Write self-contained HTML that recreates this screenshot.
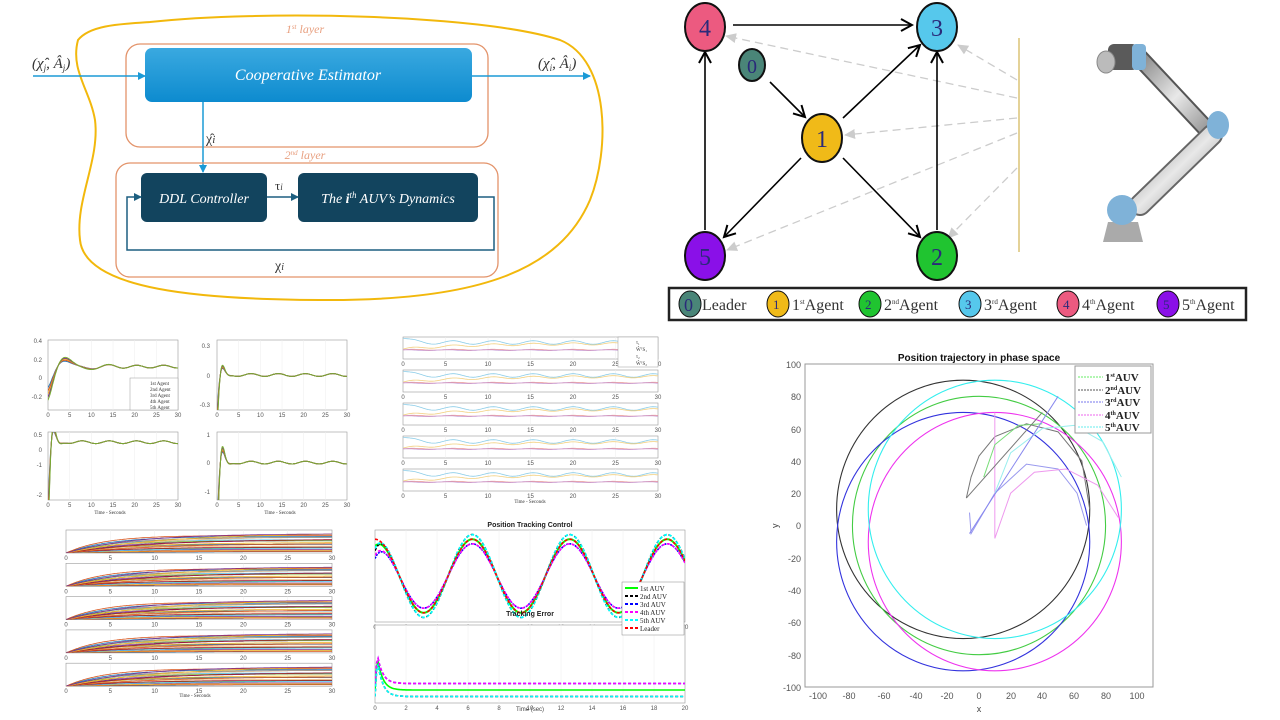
<!DOCTYPE html>
<html><head><meta charset="utf-8"><style>
body{margin:0;background:#fff}
svg{display:block}
text{font-family:"Liberation Sans",sans-serif}
text.s,.s text{font-family:"Liberation Serif",serif}
.t{font-size:6px;fill:#555}
</style></head><body>
<svg id="S" width="1280" height="720" viewBox="0 0 1280 720" xmlns="http://www.w3.org/2000/svg">
<defs id="D">
<marker id="ab" markerWidth="8" markerHeight="8" refX="7" refY="4" orient="auto" markerUnits="userSpaceOnUse"><path d="M0,0 L8,4 L0,8 z" fill="#1b9ad6"/></marker>
<marker id="ad" markerWidth="8" markerHeight="8" refX="7" refY="4" orient="auto" markerUnits="userSpaceOnUse"><path d="M0,0 L8,4 L0,8 z" fill="#1d5f80"/></marker>
<marker id="ak" markerWidth="14" markerHeight="14" refX="12" refY="7" orient="auto" markerUnits="userSpaceOnUse"><path d="M1,1 L12,7 L1,13" fill="none" stroke="#000" stroke-width="2"/></marker>
<marker id="ag" markerWidth="12" markerHeight="12" refX="10" refY="6" orient="auto" markerUnits="userSpaceOnUse"><path d="M0,1 L11,6 L0,11 z" fill="#ccc"/></marker>
<linearGradient id="bg" x1="0" y1="0" x2="0" y2="1"><stop offset="0" stop-color="#3aa9e0"/><stop offset="1" stop-color="#0d8bcf"/></linearGradient>
<linearGradient id="arm" x1="0" y1="0" x2="1" y2="1"><stop offset="0" stop-color="#8a8a8a"/><stop offset=".5" stop-color="#e8e8e8"/><stop offset="1" stop-color="#8a8a8a"/></linearGradient>
</defs>

<!-- Top-left block diagram -->
<path d="M150,22 C260,10 480,14 560,40 C610,60 610,150 590,200 C560,270 480,300 330,300 C200,300 85,290 80,240 C75,200 100,160 95,120 C90,90 70,70 78,40 C90,25 120,24 150,22 Z" fill="none" stroke="#f2b80c" stroke-width="2"/>
<rect x="126" y="44" width="362" height="103" rx="14" fill="none" stroke="#e3936a" stroke-width="1.3"/>
<text x="305" y="33" class="s" font-size="12" font-style="italic" fill="#e8a080" text-anchor="middle">1<tspan font-size="7" dy="-4">st</tspan><tspan dy="4"> layer</tspan></text>
<rect x="145" y="48" width="327" height="54" rx="7" fill="url(#bg)"/>
<text x="308" y="80" class="s" font-size="16" font-style="italic" fill="#fff" text-anchor="middle">Cooperative Estimator</text>
<line x1="33" y1="76" x2="145" y2="76" stroke="#1b9ad6" stroke-width="1.5" marker-end="url(#ab)"/>
<line x1="472" y1="76" x2="590" y2="76" stroke="#1b9ad6" stroke-width="1.5" marker-end="url(#ab)"/>
<text x="32" y="68" class="s" font-size="15" font-style="italic" fill="#333">(χ̂<tspan font-size="9" dy="3">j</tspan><tspan dy="-3">, Â</tspan><tspan font-size="9" dy="3">j</tspan><tspan dy="-3">)</tspan></text>
<text x="538" y="68" class="s" font-size="15" font-style="italic" fill="#333">(χ̂<tspan font-size="9" dy="3">i</tspan><tspan dy="-3">, Â</tspan><tspan font-size="9" dy="3">i</tspan><tspan dy="-3">)</tspan></text>
<line x1="203" y1="102" x2="203" y2="172" stroke="#1b9ad6" stroke-width="1.5" marker-end="url(#ab)"/>
<text x="206" y="143" class="s" font-size="14" fill="#333">χ̂<tspan font-style="italic" font-size="11">i</tspan></text>
<text x="305" y="159" class="s" font-size="12" font-style="italic" fill="#e8a080" text-anchor="middle">2<tspan font-size="7" dy="-4">nd</tspan><tspan dy="4"> layer</tspan></text>
<rect x="116" y="163" width="382" height="114" rx="14" fill="none" stroke="#e3936a" stroke-width="1.3"/>
<rect x="141" y="173" width="126" height="49" rx="6" fill="#12445e"/>
<rect x="298" y="173" width="180" height="49" rx="6" fill="#12445e"/>
<text x="204" y="203" class="s" font-size="14" font-style="italic" fill="#fff" text-anchor="middle">DDL Controller</text>
<text x="388" y="203" class="s" font-size="14" font-style="italic" fill="#fff" text-anchor="middle">The <tspan font-weight="bold">i</tspan><tspan font-size="9" dy="-5">th</tspan><tspan dy="5"> AUV’s Dynamics</tspan></text>
<line x1="267" y1="197" x2="298" y2="197" stroke="#1d5f80" stroke-width="1.5" marker-end="url(#ad)"/>
<text x="275" y="190" class="s" font-size="13" fill="#333">τ<tspan font-size="9" font-style="italic">i</tspan></text>
<path d="M478,197 H494 V250 H127 V197 H141" fill="none" stroke="#1d5f80" stroke-width="1.5" marker-end="url(#ad)"/>
<text x="275" y="270" class="s" font-size="14" fill="#333">χ<tspan font-size="10" font-style="italic">i</tspan></text>

<!-- Graph -->
<line x1="1019" y1="38" x2="1019" y2="252" stroke="#c9a530" stroke-width="1"/>
<g stroke="#ccc" stroke-width="1.3" stroke-dasharray="8,5" fill="none">
<line x1="1017" y1="98" x2="726" y2="36" marker-end="url(#ag)"/>
<line x1="1017" y1="80" x2="958" y2="45" marker-end="url(#ag)"/>
<line x1="1017" y1="118" x2="845" y2="135" marker-end="url(#ag)"/>
<line x1="1017" y1="133" x2="727" y2="250" marker-end="url(#ag)"/>
<line x1="1017" y1="168" x2="948" y2="238" marker-end="url(#ag)"/>
</g>
<g stroke="#000" stroke-width="1.6" fill="none">
<line x1="733" y1="25" x2="912" y2="25" marker-end="url(#ak)"/>
<line x1="770" y1="82" x2="805" y2="117" marker-end="url(#ak)"/>
<line x1="843" y1="118" x2="920" y2="45" marker-end="url(#ak)"/>
<line x1="801" y1="158" x2="724" y2="237" marker-end="url(#ak)"/>
<line x1="843" y1="158" x2="920" y2="237" marker-end="url(#ak)"/>
<line x1="937" y1="230" x2="937" y2="52" marker-end="url(#ak)"/>
<line x1="705" y1="230" x2="705" y2="52" marker-end="url(#ak)"/>
</g>
<g stroke="#111" stroke-width="2">
<ellipse cx="705" cy="27" rx="20" ry="24" fill="#ec5a80"/>
<ellipse cx="937" cy="27" rx="20" ry="24" fill="#56c8ec"/>
<ellipse cx="752" cy="65" rx="13" ry="16" fill="#4a8578"/>
<ellipse cx="822" cy="138" rx="20" ry="24" fill="#f0ba18"/>
<ellipse cx="705" cy="256" rx="20" ry="24" fill="#8a10e8"/>
<ellipse cx="937" cy="256" rx="20" ry="24" fill="#20c430"/>
</g>
<g class="s" font-size="24" text-anchor="middle" fill="#2a2a7a">
<text x="705" y="36">4</text><text x="937" y="36">3</text><text x="752" y="73" font-size="20">0</text>
<text x="822" y="147">1</text><text x="705" y="265">5</text><text x="937" y="265">2</text>
</g>
<!-- legend -->
<rect x="669" y="288" width="577" height="32" fill="#fff" stroke="#222" stroke-width="2.5"/>
<g class="s" font-size="16" fill="#333">
<ellipse cx="690" cy="304" rx="11" ry="13" fill="#4a8578" stroke="#111"/><text x="684" y="311" fill="#2a2a7a" font-size="18">0</text><text x="702" y="310">Leader</text>
<ellipse cx="778" cy="304" rx="11" ry="13" fill="#f0ba18" stroke="#111"/><text x="773" y="309" font-size="13" fill="#2a2a7a">1</text><text x="792" y="310">1<tspan font-size="7" dy="-6">st</tspan><tspan dy="6">Agent</tspan></text>
<ellipse cx="870" cy="304" rx="11" ry="13" fill="#20c430" stroke="#111"/><text x="865" y="309" font-size="13" fill="#2a2a7a">2</text><text x="884" y="310">2<tspan font-size="7" dy="-6">nd</tspan><tspan dy="6">Agent</tspan></text>
<ellipse cx="970" cy="304" rx="11" ry="13" fill="#56c8ec" stroke="#111"/><text x="965" y="309" font-size="13" fill="#2a2a7a">3</text><text x="984" y="310">3<tspan font-size="7" dy="-6">rd</tspan><tspan dy="6">Agent</tspan></text>
<ellipse cx="1068" cy="304" rx="11" ry="13" fill="#ec5a80" stroke="#111"/><text x="1063" y="309" font-size="13" fill="#2a2a7a">4</text><text x="1082" y="310">4<tspan font-size="7" dy="-6">th</tspan><tspan dy="6">Agent</tspan></text>
<ellipse cx="1168" cy="304" rx="11" ry="13" fill="#8a10e8" stroke="#111"/><text x="1163" y="309" font-size="13" fill="#2a2a7a">5</text><text x="1182" y="310">5<tspan font-size="7" dy="-6">th</tspan><tspan dy="6">Agent</tspan></text>
</g>
<!-- robot -->
<g>
<line x1="1140" y1="58" x2="1212" y2="135" stroke="#555" stroke-width="18" stroke-linecap="round"/>
<line x1="1140" y1="58" x2="1212" y2="135" stroke="url(#arm)" stroke-width="14" stroke-linecap="round"/>
<line x1="1212" y1="135" x2="1140" y2="205" stroke="#666" stroke-width="22" stroke-linecap="round"/>
<line x1="1212" y1="135" x2="1140" y2="205" stroke="url(#arm)" stroke-width="18" stroke-linecap="round"/>
<rect x="1108" y="44" width="30" height="26" rx="6" fill="#5a5a5a"/>
<ellipse cx="1106" cy="62" rx="9" ry="11" fill="#bbb" stroke="#888"/>
<rect x="1132" y="44" width="14" height="26" rx="4" fill="#7fb2d8"/>
<ellipse cx="1218" cy="125" rx="11" ry="14" fill="#7fb2d8"/>
<path d="M1108,222 L1138,222 L1143,242 L1103,242 Z" fill="#aaa"/>
<circle cx="1122" cy="210" r="15" fill="#7fb2d8"/>
</g>

<g id="tl"></g>
<g id="mid"></g>
<g id="bl"></g>
<g id="pt"></g>
<g id="ph"></g>

<g class="t">
<text x="42" y="343" text-anchor="end">0.4</text><text x="42" y="362" text-anchor="end">0.2</text><text x="42" y="380" text-anchor="end">0</text><text x="42" y="399" text-anchor="end">-0.2</text>
<text x="42" y="437" text-anchor="end">0.5</text><text x="42" y="452" text-anchor="end">0</text><text x="42" y="467" text-anchor="end">-1</text><text x="42" y="497" text-anchor="end">-2</text>
<text x="210" y="348" text-anchor="end">0.3</text><text x="210" y="378" text-anchor="end">0</text><text x="210" y="407" text-anchor="end">-0.3</text>
<text x="210" y="437" text-anchor="end">1</text><text x="210" y="465" text-anchor="end">0</text><text x="210" y="494" text-anchor="end">-1</text>
</g>
<g class="s" font-size="5" fill="#333">
<rect x="130" y="378" width="48" height="32" fill="#fff" stroke="#999" stroke-width=".5"/>
<text x="150" y="385">1st Agent</text><text x="150" y="391">2nd Agent</text><text x="150" y="397">3rd Agent</text><text x="150" y="403">4th Agent</text><text x="150" y="409">5th Agent</text>
<rect x="618" y="337" width="40" height="30" fill="#fff" stroke="#999" stroke-width=".5"/>
<text x="636" y="344">τ₁</text><text x="636" y="351">ŴᵀS₁</text><text x="636" y="358">τ₂</text><text x="636" y="365">ŴᵀS₂</text>
<text x="110" y="514" text-anchor="middle">Time - Seconds</text><text x="280" y="514" text-anchor="middle">Time - Seconds</text>
<text x="530" y="503" text-anchor="middle">Time - Seconds</text><text x="195" y="697" text-anchor="middle">Time - Seconds</text>
</g>
<text x="530" y="527" font-size="7" font-weight="bold" text-anchor="middle" fill="#222">Position Tracking Control</text>
<text x="530" y="616" font-size="7" font-weight="bold" text-anchor="middle" fill="#222">Tracking Error</text>
<text x="530" y="711" font-size="6" text-anchor="middle" fill="#444">Time (sec)</text>
<g class="s" font-size="7" fill="#222">
<rect x="622" y="582" width="62" height="53" fill="#fff" stroke="#888" stroke-width=".5"/>
<line x1="625" y1="588" x2="638" y2="588" stroke="#0f0" stroke-width="2"/><text x="640" y="591">1st AUV</text>
<line x1="625" y1="596" x2="638" y2="596" stroke="#000" stroke-width="2" stroke-dasharray="3,2"/><text x="640" y="599">2nd AUV</text>
<line x1="625" y1="604" x2="638" y2="604" stroke="#00f" stroke-width="2" stroke-dasharray="3,2"/><text x="640" y="607">3rd AUV</text>
<line x1="625" y1="612" x2="638" y2="612" stroke="#f0f" stroke-width="2" stroke-dasharray="3,2"/><text x="640" y="615">4th AUV</text>
<line x1="625" y1="620" x2="638" y2="620" stroke="#0ff" stroke-width="2" stroke-dasharray="3,2"/><text x="640" y="623">5th AUV</text>
<line x1="625" y1="628" x2="638" y2="628" stroke="#f00" stroke-width="2" stroke-dasharray="3,2"/><text x="640" y="631">Leader</text>
</g>
<text x="979" y="361" font-size="10" font-weight="bold" text-anchor="middle" fill="#111">Position trajectory in phase space</text>
<text x="979" y="712" font-size="9" text-anchor="middle" fill="#444">x</text>
<text x="778" y="528" font-size="9" fill="#444" transform="rotate(-90 778 528)">y</text>
<g class="s" font-size="11" font-weight="bold" fill="#222">
<rect x="1075" y="366" width="76" height="67" fill="#fff" stroke="#999"/>
<line x1="1078" y1="377" x2="1103" y2="377" stroke="#6e6" stroke-dasharray="2,1"/><text x="1105" y="381">1<tspan font-size="6" dy="-4">st</tspan><tspan dy="4">AUV</tspan></text>
<line x1="1078" y1="390" x2="1103" y2="390" stroke="#555" stroke-dasharray="2,1"/><text x="1105" y="394">2<tspan font-size="6" dy="-4">nd</tspan><tspan dy="4">AUV</tspan></text>
<line x1="1078" y1="402" x2="1103" y2="402" stroke="#77e" stroke-dasharray="2,1"/><text x="1105" y="406">3<tspan font-size="6" dy="-4">rd</tspan><tspan dy="4">AUV</tspan></text>
<line x1="1078" y1="415" x2="1103" y2="415" stroke="#e6e" stroke-dasharray="2,1"/><text x="1105" y="419">4<tspan font-size="6" dy="-4">th</tspan><tspan dy="4">AUV</tspan></text>
<line x1="1078" y1="427" x2="1103" y2="427" stroke="#6ee" stroke-dasharray="2,1"/><text x="1105" y="431">5<tspan font-size="6" dy="-4">th</tspan><tspan dy="4">AUV</tspan></text>
</g>
<g font-size="9" fill="#555" text-anchor="end">
<text x="801" y="368">100</text><text x="801" y="400">80</text><text x="801" y="433">60</text><text x="801" y="465">40</text><text x="801" y="497">20</text><text x="801" y="529">0</text><text x="801" y="562">-20</text><text x="801" y="594">-40</text><text x="801" y="626">-60</text><text x="801" y="659">-80</text><text x="801" y="691">-100</text>
</g>
<g font-size="9" fill="#555" text-anchor="middle">
<text x="818" y="699">-100</text><text x="849" y="699">-80</text><text x="884" y="699">-60</text><text x="916" y="699">-40</text><text x="947" y="699">-20</text><text x="979" y="699">0</text><text x="1011" y="699">20</text><text x="1042" y="699">40</text><text x="1074" y="699">60</text><text x="1106" y="699">80</text><text x="1137" y="699">100</text>
</g>
</svg>
<script>
var NS="http://www.w3.org/2000/svg",cid=0;
function mk(p,t,a){var e=document.createElementNS(NS,t);for(var k in a)e.setAttribute(k,a[k]);p.appendChild(e);return e;}
function el(g,t,a){return mk(document.getElementById(g),t,a);}
function box(g,x,y,w,h,nx,lab){el(g,"rect",{x:x,y:y,width:w,height:h,fill:"#fff",stroke:"#999","stroke-width":.6});
 for(var i=1;i<nx;i++)el(g,"line",{x1:x+w*i/nx,y1:y,x2:x+w*i/nx,y2:y+h,stroke:"#eee","stroke-width":.5});
 if(lab){for(var i=0;i<=nx;i++){var t=el(g,"text",{x:x+w*i/nx,y:y+h+7,"font-size":6,fill:"#555","text-anchor":"middle"});t.textContent=lab[i];}}
 var id="c"+(cid++);var cp=mk(document.getElementById("D"),"clipPath",{id:id});mk(cp,"rect",{x:x,y:y,width:w,height:h});
 return el(g,"g",{"clip-path":"url(#"+id+")"});}
function curve(G,x,y,w,h,f,c,sw,da){var d="";for(var i=0;i<=200;i++){var u=i/200;var v=f(u);d+=(i?"L":"M")+(x+u*w).toFixed(1)+","+(y+h*(1-v)).toFixed(1);}
 var a={d:d,fill:"none",stroke:c,"stroke-width":sw||1};if(da)a["stroke-dasharray"]=da;mk(G,"path",a);}
var L30=["0","5","10","15","20","25","30"];
var cols=["#2a7ab8","#d9541a","#edb120","#7e2f8e","#77ac30"];
[[48,340,130,70,.62,-0.3],[217,340,130,70,.5,-0.5],[48,432,130,68,.85,-0.9],[217,432,130,68,.55,-0.9]].forEach(function(p,j){
 var G=box("tl",p[0],p[1],p[2],p[3],6,L30);
 cols.forEach(function(c,k){curve(G,p[0],p[1],p[2],p[3],function(u){var tr=Math.exp(-u*(j==0?8:40));return p[4]+(p[5]*(1+k*.15))*tr*Math.cos(u*(j==0?20:60))+0.02*Math.sin(u*30);},c,1);});
});
for(var r=0;r<5;r++){var y=337+r*33;var G=box("mid",403,y,255,22,6,L30);
 curve(G,403,y,255,22,function(u){return .75+.08*Math.sin(u*40)+.2*Math.exp(-u*30);},"#8ccde8",.8);
 curve(G,403,y,255,22,function(u){return .45+.25*(1-Math.exp(-u*4))+.05*Math.sin(u*40);},"#f2d080",.8);
 curve(G,403,y,255,22,function(u){return .42+.02*Math.sin(u*40);},"#e89090",.8);
 curve(G,403,y,255,22,function(u){return .4+.02*Math.sin(u*40+1);},"#c9a0d8",.8);}
var pal=["#1f77b4","#d95319","#edb120","#7e2f8e","#77ac30","#4dbeee","#a2142f","#f0c080","#888"];
for(var r=0;r<5;r++){var y=530+r*33.3;var G=box("bl",66,y,266,23,6,L30);
 for(var k=0;k<22;k++){(function(k){var a=(k/22)*.85+.03;curve(G,66,y,266,23,function(u){return a*(1-Math.exp(-u*(3+k%5)))+(k%4==0?.06*Math.floor(u*6)/6:0);},pal[k%pal.length],.8);})(k);}}
var PL=["0","2","4","6","8","10","12","14","16","18","20"];
var G1=box("pt",375,530,310,92,10,PL),G2=box("pt",375,625,310,78,10,PL);
var ac=[["#0f0",0,"",2],["#000",10,"3,2",1.6],["#00f",-10,"2,1",1.6],["#f0f",-10,"3,2",1.6],["#0ff",10,"3,2",1.8],["#f00",0,"3,2",1.6]];
var st=[65,55,38,45,60,80];
ac.forEach(function(a,k){var amp=80+a[1];curve(G1,375,530,310,92,function(u){var t=u*20;var v=amp*Math.cos(t-0.0);v=v+(st[k]-amp)*Math.exp(-t*2.5);return (v+100)/200;},a[0],a[3],a[2]);});
[["#0f0",0],["#000",-10],["#00f",10],["#f0f",10],["#0ff",-10]].forEach(function(a,k){curve(G2,375,625,310,78,function(u){var t=u*20;var v=a[1]+(80-a[1])*Math.exp(-t*3)*Math.min(1,t*6);return (v+20)/120;},a[0],1.6,k?"3,2":"");});
el("ph","rect",{x:805,y:364,width:348,height:323,fill:"none",stroke:"#999"});
var sx=1.582,sy=1.615,x0=979,y0=525.5;
[["#333",-10,10],["#4c4",0,0],["#33d",-10,-10],["#e3e",10,-10],["#3ee",10,10]].forEach(function(c){
 el("ph","ellipse",{cx:x0+c[1]*sx,cy:y0-c[2]*sy,rx:80*sx,ry:80*sy,fill:"none",stroke:c[0],"stroke-width":1.1});});
[["#777",[[-8,17],[-5,30],[0,43],[10,55],[30,63],[50,58],[65,40],[70,10]]],["#99e",[[-6,8],[-5,-5],[10,20],[30,38],[50,35],[62,20],[68,0]]],["#e9e",[[10,70],[10,-8],[20,20],[35,33],[55,35],[75,25],[88,5]]],["#9ee",[[10,20],[20,45],[40,60],[60,62],[78,52],[90,30]]],["#7d7",[[3,30],[10,50],[25,62],[40,63]]]].forEach(function(c){
 var d="";c[1].forEach(function(p,i){d+=(i?"L":"M")+(x0+p[0]*sx)+","+(y0-p[1]*sy);});el("ph","path",{d:d,fill:"none",stroke:c[0],"stroke-width":1});});
el("ph","path",{d:"M"+(x0-8*sx)+","+(y0-17*sy)+"L"+(x0+40*sx)+","+(y0-70*sy),stroke:"#777",fill:"none"});
el("ph","path",{d:"M"+(x0-6*sx)+","+(y0+5*sy)+"L"+(x0+50*sx)+","+(y0-80*sy),stroke:"#88e",fill:"none"});
</script>
</body></html>
